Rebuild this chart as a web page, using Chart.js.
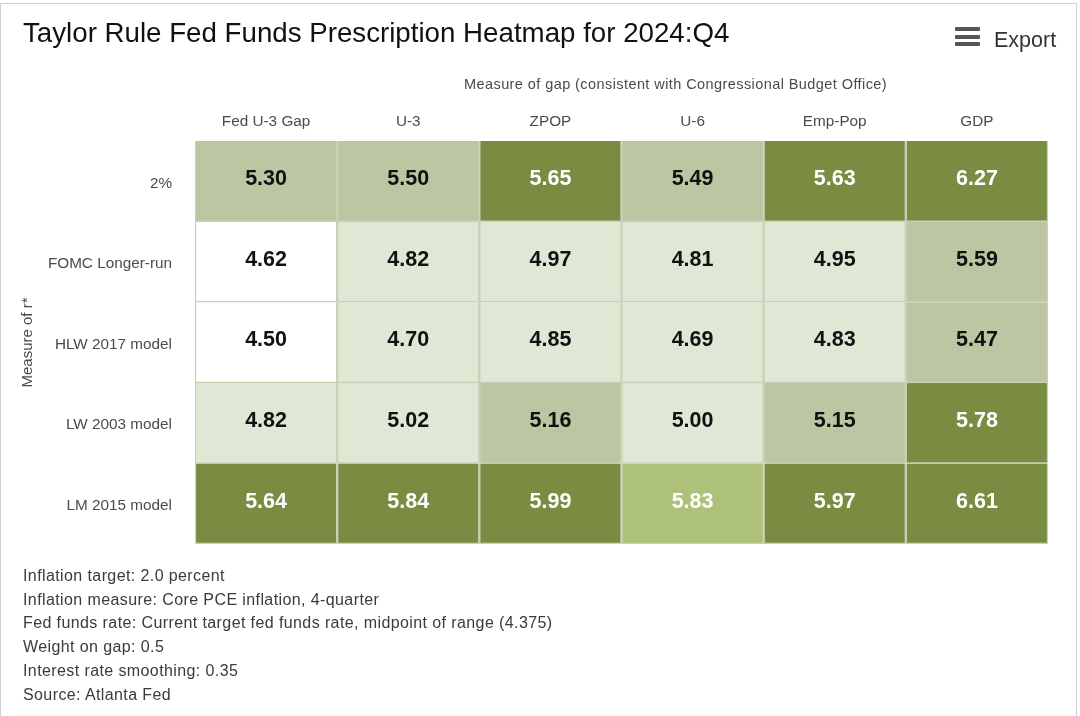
<!DOCTYPE html>
<html>
<head>
<meta charset="utf-8">
<script src="https://cdn.jsdelivr.net/npm/chart.js@4"></script>
<style>
  html, body { margin: 0; padding: 0; background: #fff; }
  body { width: 1080px; height: 716px; position: relative; overflow: hidden; font-family: "Liberation Sans", Arial, sans-serif; }
  #frame { position: absolute; left: 0; top: 3px; width: 1075px; height: 720px; border: 1px solid #cfd2d4; }
  #chart { position: absolute; left: 0; top: 0; }
  #gapTitle { position: absolute; left: 464px; top: 76px; font-size: 14.5px; letter-spacing: 0.42px; color: #4a4a50; white-space: nowrap; }
  #exportBtn { position: absolute; left: 955px; top: 27px; color: #333; font-size: 21.5px; }
  #exportBtn i { position: absolute; left: 0; width: 25px; height: 4px; background: #555; border-radius: 1px; }
  #exportBtn span { position: absolute; left: 39px; top: 1px; white-space: nowrap; }
  #notes { position: absolute; left: 23px; top: 564px; font-size: 16px; letter-spacing: 0.4px; line-height: 23.7px; color: #40383c; white-space: nowrap; }
</style>
</head>
<body>
<div id="frame"></div>
<canvas id="chart" width="1080" height="716"></canvas>
<div id="gapTitle">Measure of gap (consistent with Congressional Budget Office)</div>
<div id="exportBtn"><i style="top:0"></i><i style="top:7.5px"></i><i style="top:15px"></i><span>Export</span></div>
<div id="notes"></div>
<script>
const chartTitle = "Taylor Rule Fed Funds Prescription Heatmap for 2024:Q4";
const gapLabels = ["Fed U-3 Gap", "U-3", "ZPOP", "U-6", "Emp-Pop", "GDP"];
const rstarLabels = ["2%", "FOMC Longer-run", "HLW 2017 model", "LW 2003 model", "LM 2015 model"];

const row2pct = [5.30, 5.50, 5.65, 5.49, 5.63, 6.27];
const rowFomc = [4.62, 4.82, 4.97, 4.81, 4.95, 5.59];
const rowHlw = [4.50, 4.70, 4.85, 4.69, 4.83, 5.47];
const rowLw = [4.82, 5.02, 5.16, 5.00, 5.15, 5.78];
const rowLm = [5.64, 5.84, 5.99, 5.83, 5.97, 6.61];
const rows = [row2pct, rowFomc, rowHlw, rowLw, rowLm];

const notes = [
  "Inflation target: 2.0 percent",
  "Inflation measure: Core PCE inflation, 4-quarter",
  "Fed funds rate: Current target fed funds rate, midpoint of range (4.375)",
  "Weight on gap: 0.5",
  "Interest rate smoothing: 0.35",
  "Source: Atlanta Fed",
];

document.getElementById("notes").innerHTML = notes.map((n) => "<div>" + n + "</div>").join("");

function cellColor(v, row, col) {
  // the U-6 cell of the LM row is a lighter green in the original
  if (row === 4 && col === 3) return "#aec178";
  if (v < 4.65) return "#ffffff";
  if (v < 5.1) return "#e1e7d5";
  if (v < 5.62) return "#bcc6a2";
  return "#7a8c42";
}

// writes the number in the middle of each cell
const cellLabels = {
  id: "cellLabels",
  afterDatasetsDraw(chart) {
    const ctx = chart.ctx;
    ctx.save();
    ctx.font = "bold 21.5px 'Liberation Sans', Arial, sans-serif";
    ctx.textAlign = "center";
    ctx.textBaseline = "middle";
    chart.data.datasets.forEach((ds, r) => {
      chart.getDatasetMeta(r).data.forEach((bar, c) => {
        const dark = ds.backgroundColor[c] === "#7a8c42" || ds.backgroundColor[c] === "#aec178";
        ctx.fillStyle = dark ? "#ffffff" : "#111111";
        ctx.fillText(rows[r][c].toFixed(2), bar.x, bar.getCenterPoint().y - 2);
      });
    });
    ctx.restore();
  },
};

new Chart(document.getElementById("chart"), {
  type: "bar",
  data: {
    labels: gapLabels,
    datasets: rows.map((vals, r) => ({
      label: rstarLabels[r],
      data: vals.map((v, c) => ({ x: gapLabels[c], y: [r, r + 1] })),
      backgroundColor: vals.map((v, c) => cellColor(v, r, c)),
      borderColor: "#c8d1b5",
      borderWidth: 1.5,
      barPercentage: 1,
      categoryPercentage: 1,
      grouped: false,
    })),
  },
  options: {
    responsive: false,
    animation: false,
    events: [],
    layout: { padding: { left: 23, right: 32, top: 18, bottom: 172 } },
    plugins: {
      legend: { display: false },
      tooltip: { enabled: false },
      title: {
        display: true,
        text: chartTitle,
        align: "start",
        color: "#111111",
        padding: 0,
        font: { family: "'Liberation Sans', Arial, sans-serif", size: 27.7, weight: "normal" },
      },
    },
    scales: {
      x: {
        type: "category",
        position: "top",
        grid: { display: false, drawTicks: false },
        border: { display: false },
        ticks: {
          padding: 10,
          color: "#4a4a50",
          maxRotation: 0,
          font: { family: "'Liberation Sans', Arial, sans-serif", size: 15.3 },
        },
        afterFit(scale) {
          scale.height = 89.76;
        },
      },
      y: {
        type: "linear",
        reverse: true,
        min: 0,
        max: 5,
        grid: { display: false, drawTicks: false },
        border: { display: false },
        title: {
          display: true,
          text: "Measure of r*",
          color: "#4a4a50",
          padding: { top: -4, bottom: 0 },
          font: { family: "'Liberation Sans', Arial, sans-serif", size: 15 },
        },
        afterBuildTicks(scale) {
          scale.ticks = rstarLabels.map((l, i) => ({ value: i + 0.525 }));
        },
        ticks: {
          padding: 23,
          autoSkip: false,
          color: "#4a4a50",
          font: { family: "'Liberation Sans', Arial, sans-serif", size: 15.3 },
          callback: (v, i) => rstarLabels[i],
        },
        afterFit(scale) {
          scale.width = 172;
        },
      },
    },
  },
  plugins: [cellLabels],
});
</script>
</body>
</html>
